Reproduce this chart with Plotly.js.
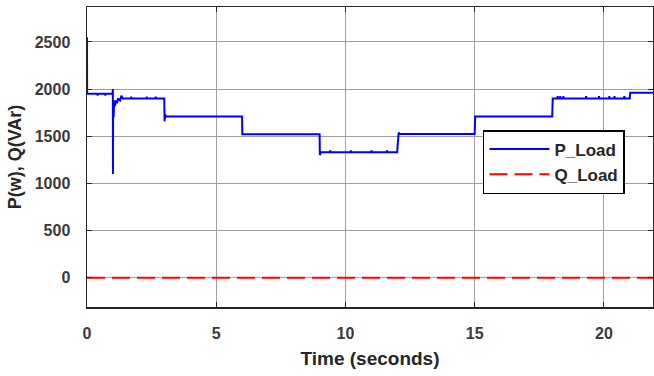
<!DOCTYPE html>
<html>
<head>
<meta charset="utf-8">
<script src="https://cdn.plot.ly/plotly-3.0.1.min.js"></script>
<style>html,body{margin:0;padding:0;background:#fff;}#chart{width:654px;height:376px;}</style>
</head>
<body>
<div id="chart"></div>
<script>
// P_Load (W) step profile
const pTime = [0, 0.005, 0.4, 0.41, 0.42, 0.7, 0.71, 0.72, 0.99, 1.0, 1.005, 1.01, 1.03, 1.05, 1.08, 1.12, 1.16, 1.2, 1.28, 1.33, 1.38,
  1.7, 1.71, 1.72, 2.3, 2.31, 2.32, 2.65, 2.66, 2.67, 2.99, 3.0, 3.03, 3.06,
  6.0, 6.01, 9.0, 9.01, 9.05, 9.4, 9.41, 9.42, 10.2, 10.21, 10.22, 11.0, 11.01, 11.02, 11.6, 11.61, 11.62, 12.0, 12.03, 12.06, 12.1,
  15.0, 15.02, 18.0, 18.02, 18.2, 18.21, 18.22, 18.3, 18.31, 18.32, 18.42, 18.43, 18.44, 19.3, 19.31, 19.32, 19.8, 19.81, 19.82,
  20.2, 20.21, 20.22, 20.4, 20.41, 20.42, 20.78, 20.79, 20.8, 21.0, 21.02, 22.0];
const pValue = [2550, 1950, 1950, 1930, 1950, 1950, 1930, 1950, 1950, 2000, 1100, 1850, 1700, 1880, 1820, 1880, 1850, 1900, 1880, 1930, 1900,
  1900, 1920, 1900, 1900, 1920, 1900, 1900, 1920, 1900, 1900, 1660, 1730, 1710,
  1710, 1520, 1520, 1300, 1330, 1330, 1350, 1330, 1330, 1350, 1330, 1330, 1350, 1330, 1330, 1350, 1330, 1330, 1520, 1540, 1525,
  1525, 1710, 1710, 1900, 1900, 1925, 1900, 1900, 1925, 1900, 1900, 1925, 1900, 1900, 1925, 1900, 1900, 1925, 1900,
  1900, 1925, 1900, 1900, 1925, 1900, 1900, 1925, 1900, 1900, 1960, 1960];
// Q_Load (VAr)
const qTime = [0, 22];
const qValue = [0, 0];

const xTicks = [0, 5, 10, 15, 20];
const yTicks = [0, 500, 1000, 1500, 2000, 2500];
const xTitle = 'Time (seconds)';
const yTitle = '\u00a0\u00a0P(w), Q(VAr)';

const font = 'Liberation Sans, Arial, sans-serif';
const traces = [
  {x: pTime, y: pValue, name: 'P_Load', type: 'scatter', mode: 'lines',
   line: {color: '#0000ff', width: 2}},
  {x: qTime, y: qValue, name: 'Q_Load', type: 'scatter', mode: 'lines',
   line: {color: '#ff0000', width: 2, dash: '18px,7px'}}
];
const axisCommon = {
  showline: true, linecolor: '#262626', linewidth: 1.5, mirror: 'ticks',
  ticks: 'inside', ticklen: 5, tickcolor: '#262626', tickwidth: 1,
  showgrid: true, gridcolor: '#a0a0a0', gridwidth: 1, zeroline: false,
  tickfont: {family: font, size: 16, color: '#3a3a3a', weight: 'bold'}
};
const layout = {
  width: 654, height: 376,
  margin: {l: 87, r: 1, t: 7, b: 69},
  paper_bgcolor: '#fff', plot_bgcolor: '#fff',
  showlegend: true,
  legend: {x: 0.6996, y: 0.59, xanchor: 'left', yanchor: 'top',
    bgcolor: '#fff', bordercolor: '#000', borderwidth: 1.5,
    font: {family: font, size: 17, color: '#262626', weight: 'bold'}, itemwidth: 60, tracegroupgap: 0},
  xaxis: Object.assign({}, axisCommon, {range: [0, 21.9], tickvals: xTicks, ticklabelstandoff: 11,
    title: {text: xTitle, font: {family: font, size: 19, color: '#262626', weight: 'bold'}, standoff: 11}}),
  yaxis: Object.assign({}, axisCommon, {range: [-310, 2870], tickvals: yTicks, ticklabelstandoff: 12,
    title: {text: yTitle, font: {family: font, size: 18, color: '#262626', weight: 'bold'}, standoff: 8}})
};
Plotly.newPlot('chart', traces, layout, {displayModeBar: false, staticPlot: true});
</script>
</body>
</html>
